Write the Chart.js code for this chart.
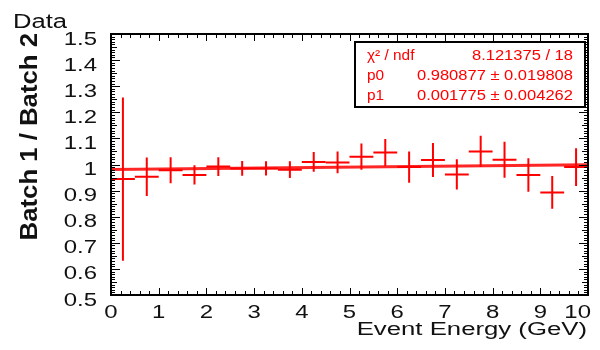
<!DOCTYPE html>
<html>
<head>
<meta charset="utf-8">
<script src="https://cdn.jsdelivr.net/npm/chart.js@4/dist/chart.umd.min.js"></script>
<style>
  html, body { margin: 0; padding: 0; background: #fff; }
  #wrap { width: 600px; height: 350px; }
</style>
</head>
<body>
<div id="wrap"><canvas id="c" width="600" height="350"></canvas></div>
<script>
// Bin centres of the energy histogram (GeV), 0.5 GeV wide bins
const binCenters = [0.25, 0.75, 1.25, 1.75, 2.25, 2.75, 3.25, 3.75, 4.25, 4.75,
                    5.25, 5.75, 6.25, 6.75, 7.25, 7.75, 8.25, 8.75, 9.25, 9.75];
const binHalfWidth = 0.25;
// Batch 1 / Batch 2 ratio per bin and its uncertainty
const ratio    = [0.944, 0.953, 0.978, 0.960, 0.992, 0.985, 0.985, 0.980, 1.010, 1.008,
                  1.030, 1.046, 0.990, 1.017, 0.962, 1.050, 1.018, 0.960, 0.893, 0.990];
const ratioErr = [0.313, 0.074, 0.050, 0.037, 0.036, 0.028, 0.027, 0.032, 0.038, 0.042,
                  0.050, 0.052, 0.060, 0.065, 0.058, 0.060, 0.069, 0.064, 0.063, 0.072];
// Straight-line fit p0 + p1*x
const fitP0 = 0.980877, fitP0Err = 0.019808;
const fitP1 = 0.001775, fitP1Err = 0.004262;
const fitChi2 = "8.121375", fitNdf = "18";
// Axis ranges and tick labels
const xRange = [0, 10];
const yRange = [0.5, 1.5];
const xTickLabels = ["0","1","2","3","4","5","6","7","8","9","10"];
const yTickLabels = ["0.5","0.6","0.7","0.8","0.9","1","1.1","1.2","1.3","1.4","1.5"];

const FONT = '"Liberation Sans", Arial, Helvetica, sans-serif';

function stretchedText(ctx, str, x, y, font, sx, sy, align, color) {
  ctx.save();
  ctx.translate(x, y);
  ctx.scale(sx, sy);
  ctx.font = font;
  ctx.fillStyle = color;
  ctx.textAlign = align;
  ctx.textBaseline = 'alphabetic';
  ctx.fillText(str, 0, 0);
  ctx.restore();
}

// Histogram points: horizontal bin-width bar plus vertical error bar
const errorBars = {
  id: 'errorBars',
  beforeDatasetsDraw(chart) {
    const ctx = chart.ctx, xs = chart.scales.x, ys = chart.scales.y;
    ctx.save();
    ctx.strokeStyle = '#ff0000';
    ctx.lineWidth = 2;
    ctx.lineCap = 'butt';
    for (let i = 0; i < binCenters.length; i++) {
      const cx = xs.getPixelForValue(binCenters[i]);
      const cy = ys.getPixelForValue(ratio[i]);
      ctx.beginPath();
      ctx.moveTo(xs.getPixelForValue(binCenters[i] - binHalfWidth), cy);
      ctx.lineTo(xs.getPixelForValue(binCenters[i] + binHalfWidth), cy);
      ctx.moveTo(cx, ys.getPixelForValue(ratio[i] - ratioErr[i]));
      ctx.lineTo(cx, ys.getPixelForValue(ratio[i] + ratioErr[i]));
      ctx.stroke();
    }
    ctx.restore();
  }
};

// Frame, inward ticks on all four sides, tick labels, titles and fit box
const frame = {
  id: 'frame',
  afterDraw(chart) {
    const ctx = chart.ctx, a = chart.chartArea;
    const xs = chart.scales.x, ys = chart.scales.y;
    ctx.save();
    ctx.strokeStyle = '#000';
    ctx.lineWidth = 1;
    ctx.beginPath();
    // x ticks: every 0.2, longer at integers
    for (let k = 0; k <= 50; k++) {
      const v = xRange[0] + k * 0.2;
      const px = Math.round(xs.getPixelForValue(v)) + 0.5;
      const len = (k % 5 === 0) ? 7 : 4;
      ctx.moveTo(px, a.bottom); ctx.lineTo(px, a.bottom - len);
      ctx.moveTo(px, a.top); ctx.lineTo(px, a.top + len);
    }
    // y ticks: every 0.01, longer at 0.05 and 0.1
    for (let k = 0; k <= 100; k++) {
      const v = yRange[0] + k * 0.01;
      const py = Math.round(ys.getPixelForValue(v)) + 0.5;
      const len = (k % 10 === 0) ? 9 : (k % 5 === 0 ? 6 : 4);
      ctx.moveTo(a.left, py); ctx.lineTo(a.left + len, py);
      ctx.moveTo(a.right, py); ctx.lineTo(a.right - len, py);
    }
    ctx.stroke();
    ctx.lineWidth = 2;
    ctx.strokeRect(a.left, a.top, a.right - a.left, a.bottom - a.top);

    // tick labels
    const tickFont = '18px ' + FONT;
    xs.ticks.forEach((t, i) => {
      let px = xs.getPixelForValue(t.value);
      ctx.font = tickFont;
      const half = ctx.measureText(xTickLabels[i]).width * 1.33 / 2;
      px = Math.min(px, 591 - half);
      stretchedText(ctx, xTickLabels[i], px, a.bottom + 23, tickFont, 1.33, 1, 'center', '#111');
    });
    ys.ticks.forEach((t, i) => {
      const py = ys.getPixelForValue(t.value);
      stretchedText(ctx, yTickLabels[i], a.left - 14, py + 10.5, tickFont, 1.33, 1, 'right', '#111');
    });

    // axis titles
    stretchedText(ctx, 'Event Energy (GeV)', 587, 335, '18px ' + FONT, 1.43, 1, 'right', '#111');
    ctx.save();
    ctx.translate(37, 33);
    ctx.rotate(-Math.PI / 2);
    ctx.scale(1.43, 1.32);
    ctx.font = 'bold 18px ' + FONT;
    ctx.fillStyle = '#111';
    ctx.textAlign = 'right';
    ctx.fillText('Batch 1 / Batch 2', 0, 0);
    ctx.restore();
    stretchedText(ctx, 'Data', 13, 28, '20px ' + FONT, 1.28, 1, 'left', '#111');

    // fit result box
    ctx.fillStyle = '#fff';
    ctx.fillRect(355, 42, 230, 65);
    ctx.lineWidth = 2;
    ctx.strokeStyle = '#000';
    ctx.strokeRect(355, 42, 230, 65);
    const boxFont = '14px ' + FONT;
    const rows = [
      ['\u03C7\u00B2 / ndf', fitChi2 + ' / ' + fitNdf, 60],
      ['p0', fitP0.toFixed(6) + ' \u00B1 ' + fitP0Err.toFixed(6), 79.5],
      ['p1', fitP1.toFixed(6) + ' \u00B1 ' + fitP1Err.toFixed(6), 100]
    ];
    rows.forEach(r => {
      stretchedText(ctx, r[0], 367, r[2], boxFont, 1.1, 1, 'left', '#ff0000');
      stretchedText(ctx, r[1], 573, r[2], boxFont, 1.18, 1, 'right', '#ff0000');
    });
    ctx.restore();
  }
};

const fitLine = [
  { x: xRange[0], y: fitP0 + fitP1 * xRange[0] },
  { x: xRange[1], y: fitP0 + fitP1 * xRange[1] }
];

new Chart(document.getElementById('c'), {
  type: 'scatter',
  data: {
    datasets: [
      {
        label: 'ratio',
        data: binCenters.map((x, i) => ({ x: x, y: ratio[i] })),
        pointRadius: 0,
        showLine: false
      },
      {
        type: 'line',
        label: 'fit',
        data: fitLine,
        borderColor: 'rgba(255,0,0,0.85)',
        borderWidth: 3,
        pointRadius: 0,
        fill: false
      }
    ]
  },
  options: {
    responsive: false,
    animation: false,
    events: [],
    layout: { padding: { top: 34, right: 12, left: 0, bottom: 0 } },
    plugins: { legend: { display: false }, tooltip: { enabled: false } },
    scales: {
      x: {
        type: 'linear', min: xRange[0], max: xRange[1],
        ticks: { stepSize: 1, display: false },
        grid: { display: false }, border: { display: false },
        afterFit(s) { s.height = 55; }
      },
      y: {
        type: 'linear', min: yRange[0], max: yRange[1],
        ticks: { stepSize: 0.1, display: false },
        grid: { display: false }, border: { display: false },
        afterFit(s) { s.width = 111; }
      }
    }
  },
  plugins: [errorBars, frame]
});
</script>
</body>
</html>
